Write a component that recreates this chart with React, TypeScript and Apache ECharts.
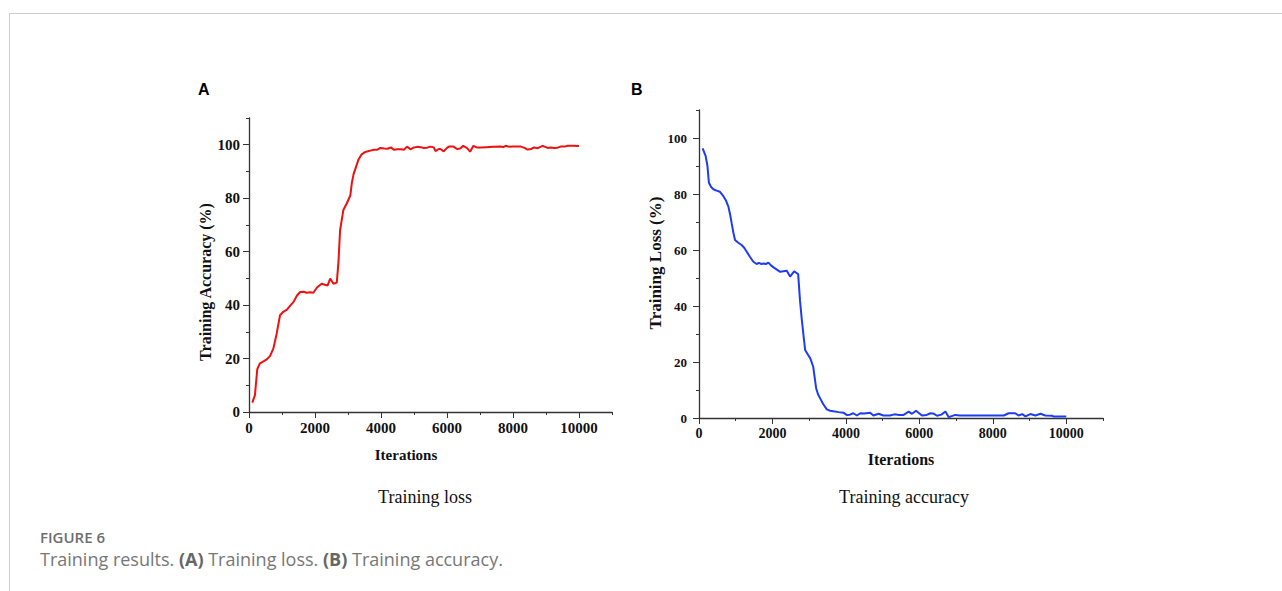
import React, { useEffect, useRef } from "react";
import * as echarts from "echarts";

// Panel A: Training accuracy (red)
const accIters = [100, 180, 250, 330, 450, 540, 640, 740, 840, 940, 1040, 1150, 1250, 1350, 1450, 1550, 1650, 1750, 1850, 1950, 2060, 2200, 2300, 2380, 2460, 2560, 2660, 2710, 2760, 2860, 2960, 3070, 3120, 3170, 3250, 3320, 3400, 3480, 3580, 3680, 3780, 3880, 3980, 4100, 4200, 4300, 4390, 4500, 4600, 4690, 4790, 4890, 5000, 5100, 5200, 5300, 5400, 5500, 5600, 5650, 5750, 5800, 5900, 6000, 6060, 6200, 6300, 6400, 6490, 6600, 6700, 6800, 6900, 7020, 7200, 7400, 7630, 7700, 7780, 7900, 8000, 8240, 8350, 8440, 8550, 8640, 8750, 8900, 9050, 9150, 9250, 9350, 9450, 9560, 9660, 9800, 10000];
const accValues = [3.5, 6.3, 16, 18.2, 19, 19.7, 21, 23.8, 29.4, 36.2, 37.5, 38.3, 39.8, 41.2, 43.5, 44.9, 45, 44.6, 44.8, 44.6, 46.6, 48, 47.6, 47.3, 49.9, 48, 48.4, 56, 68, 75.6, 78, 81, 86, 89, 92, 94.5, 96.2, 97, 97.5, 97.8, 98.1, 98.1, 98.8, 98.6, 98.5, 99, 98.1, 98.3, 98.3, 98.1, 99.3, 98.3, 99, 99.2, 99.1, 98.8, 98.9, 99.3, 99, 97.6, 98.4, 98.4, 97.5, 98.8, 99.3, 99.3, 98.4, 98.6, 99.6, 98.8, 97.4, 99.6, 99, 99, 99.1, 99.2, 99.3, 99.1, 99.6, 99.2, 99.3, 99.3, 98.8, 98.2, 98.4, 99, 98.7, 99.6, 98.8, 99, 98.8, 98.9, 99.3, 99.3, 99.6, 99.6, 99.5];

// Panel B: Training loss (blue)
const lossIters = [100, 180, 230, 270, 330, 390, 480, 570, 660, 730, 800, 850, 890, 940, 980, 1070, 1160, 1230, 1300, 1390, 1480, 1570, 1630, 1700, 1760, 1820, 1890, 1960, 2030, 2120, 2210, 2300, 2390, 2480, 2590, 2700, 2750, 2800, 2850, 2890, 2960, 3030, 3110, 3190, 3240, 3300, 3380, 3480, 3570, 3660, 3800, 3930, 4020, 4110, 4200, 4300, 4390, 4500, 4660, 4750, 4890, 5020, 5200, 5320, 5450, 5570, 5710, 5800, 5910, 6070, 6200, 6300, 6400, 6480, 6600, 6710, 6800, 6980, 7100, 7500, 7900, 8300, 8430, 8610, 8700, 8800, 8890, 9020, 9160, 9300, 9430, 9610, 9660, 10000];
const lossValues = [96.3, 93.6, 90, 84, 82.5, 81.7, 81.2, 80.8, 79.3, 77.8, 75.5, 72.5, 69.5, 66, 63.6, 62.6, 61.8, 60.8, 59.4, 57.5, 55.8, 55, 55.4, 55, 55.2, 55, 55.5, 54.5, 53.8, 53, 52.2, 52.4, 52.6, 50.5, 52.4, 51.4, 42, 35, 29, 24.3, 22.8, 21.3, 18.3, 10.6, 8.5, 7, 5, 3.1, 2.6, 2.4, 2.1, 1.9, 1.1, 1.2, 1.7, 0.9, 1.7, 1.6, 1.9, 0.9, 1.5, 0.9, 0.9, 1.3, 1.1, 1.1, 2.3, 1.5, 2.6, 0.9, 1.1, 1.7, 1.5, 0.8, 1.2, 2.3, 0.3, 1.1, 0.9, 0.9, 0.9, 0.9, 1.7, 1.7, 0.9, 1.4, 0.6, 1.4, 0.9, 1.5, 0.9, 0.8, 0.5, 0.5];

const xMajorTicks = [0, 2000, 4000, 6000, 8000, 10000];
const yMajorTicks = [0, 20, 40, 60, 80, 100];

const axisColor = "#333";
const serif = "'Liberation Serif', 'Times New Roman', serif";

function makeX(gridIndex: number, labelSize: number) {
  return [
    {
      type: "value",
      gridIndex,
      position: "bottom",
      min: 0,
      max: 11000,
      interval: 1000,
      axisLine: { show: true, lineStyle: { color: axisColor, width: 1.3 } },
      axisTick: { show: true, length: 3, lineStyle: { color: axisColor } },
      splitLine: { show: false },
      axisLabel: {
        margin: 8,
        color: "#111",
        fontFamily: serif,
        fontWeight: "bold",
        fontSize: labelSize,
        formatter: (v: number) => (v % 2000 === 0 && v <= 10000 ? String(v) : ""),
      },
    },
    {
      type: "value",
      gridIndex,
      position: "bottom",
      min: 0,
      max: 11000,
      interval: 1000,
      axisLine: { show: false },
      axisTick: { show: true, length: 6, customValues: xMajorTicks, lineStyle: { color: axisColor } },
      axisLabel: { show: false },
      splitLine: { show: false },
    },
  ];
}

function makeY(gridIndex: number, labelSize: number, margin: number) {
  return [
    {
      type: "value",
      gridIndex,
      position: "left",
      min: 0,
      max: 110,
      interval: 10,
      axisLine: { show: true, lineStyle: { color: axisColor, width: 1.3 } },
      axisTick: { show: true, length: 3, lineStyle: { color: axisColor } },
      splitLine: { show: false },
      axisLabel: {
        margin,
        color: "#111",
        fontFamily: serif,
        fontWeight: "bold",
        fontSize: labelSize,
        formatter: (v: number) => (v % 20 === 0 && v <= 100 ? String(v) : ""),
      },
    },
    {
      type: "value",
      gridIndex,
      position: "left",
      min: 0,
      max: 110,
      interval: 10,
      axisLine: { show: false },
      axisTick: { show: true, length: 6, customValues: yMajorTicks, lineStyle: { color: axisColor } },
      axisLabel: { show: false },
      splitLine: { show: false },
    },
  ];
}

export default function App() {
  const ref = useRef<HTMLDivElement>(null);
  useEffect(() => {
    if (!ref.current) return;
    const chart = echarts.init(ref.current, null, { renderer: "svg" });
    const accData = accIters.map((x, i) => [x, accValues[i]]);
    const lossData = lossIters.map((x, i) => [x, lossValues[i]]);
    chart.setOption({
      animation: false,
      backgroundColor: "#fff",
      grid: [
        { left: 249, top: 118, width: 363, height: 294 },
        { left: 699, top: 110, width: 404, height: 308 },
      ],
      xAxis: [...makeX(0, 15), ...makeX(1, 14)],
      yAxis: [...makeY(0, 15, 9), ...makeY(1, 13, 12)],
      series: [
        {
          type: "line",
          xAxisIndex: 0,
          yAxisIndex: 0,
          data: accData,
          symbol: "none",
          lineStyle: { color: "#f01010", width: 2 },
        },
        {
          type: "line",
          xAxisIndex: 2,
          yAxisIndex: 2,
          data: lossData,
          symbol: "none",
          lineStyle: { color: "#1f3cf5", width: 2 },
        },
      ],
      graphic: [
        { type: "line", shape: { x1: 9, y1: 13.5, x2: 1282, y2: 13.5 }, style: { stroke: "#cccccc", lineWidth: 1 } },
        { type: "line", shape: { x1: 9.5, y1: 13, x2: 9.5, y2: 591 }, style: { stroke: "#cccccc", lineWidth: 1 } },
        { type: "text", x: 198, y: 89, style: { text: "A", font: "bold 16px 'Liberation Sans', Arial, sans-serif", fill: "#000", textVerticalAlign: "middle" } },
        { type: "text", x: 631, y: 89, style: { text: "B", font: "bold 16px 'Liberation Sans', Arial, sans-serif", fill: "#000", textVerticalAlign: "middle" } },
        { type: "text", x: 205, y: 282, rotation: Math.PI / 2, style: { text: "Training Accuracy (%)", font: `bold 16px ${serif}`, fill: "#111", textAlign: "center", textVerticalAlign: "middle" } },
        { type: "text", x: 406, y: 455, style: { text: "Iterations", font: `bold 15px ${serif}`, fill: "#111", textAlign: "center", textVerticalAlign: "middle" } },
        { type: "text", x: 655, y: 263, rotation: Math.PI / 2, style: { text: "Training Loss (%)", font: `bold 17px ${serif}`, fill: "#111", textAlign: "center", textVerticalAlign: "middle" } },
        { type: "text", x: 901, y: 459, style: { text: "Iterations", font: `bold 16px ${serif}`, fill: "#111", textAlign: "center", textVerticalAlign: "middle" } },
        { type: "text", x: 425, y: 497, style: { text: "Training loss", font: `18px ${serif}`, fill: "#111", textAlign: "center", textVerticalAlign: "middle" } },
        { type: "text", x: 904, y: 497, style: { text: "Training accuracy", font: `18px ${serif}`, fill: "#111", textAlign: "center", textVerticalAlign: "middle" } },
        { type: "text", x: 40, y: 537, style: { text: "FIGURE 6", font: "600 15px 'Open Sans', sans-serif", fill: "#6e6e6e", textVerticalAlign: "middle" } },
        {
          type: "text",
          x: 40,
          y: 559,
          style: {
            text: "{n|Training results. }{b|(A)}{n| Training loss. }{b|(B)}{n| Training accuracy.}",
            textVerticalAlign: "middle",
            rich: {
              n: { fontFamily: "'Open Sans', sans-serif", fontSize: 18, fill: "#777", color: "#777" },
              b: { fontFamily: "'Open Sans', sans-serif", fontSize: 18, fontWeight: "bold", fill: "#666", color: "#666" },
            },
          },
        },
      ],
    });
    return () => chart.dispose();
  }, []);
  return <div ref={ref} style={{ position: "fixed", left: 0, top: 0, width: 1282, height: 591 }} />;
}
